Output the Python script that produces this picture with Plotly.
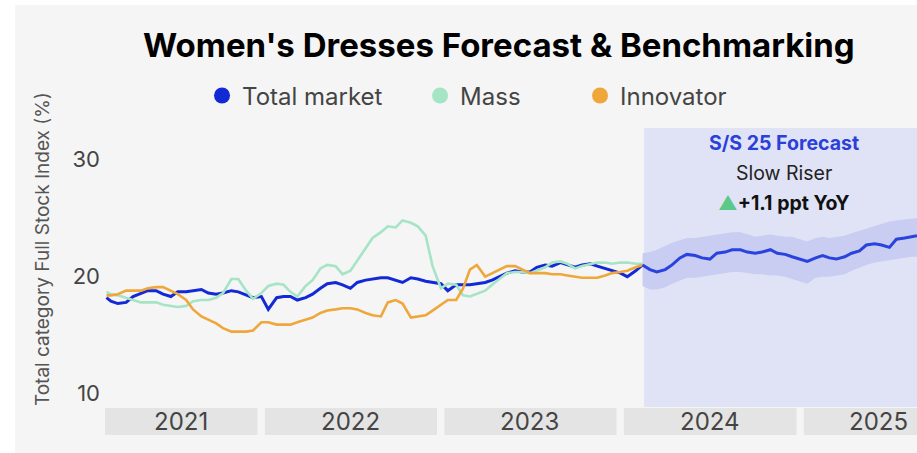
import pandas as pd
import plotly.graph_objects as go

# ---------------- data ----------------
hist_dates = ["2021-02-20"] + [d.strftime("%Y-%m-%d") for d in
                               pd.date_range("2021-03-01", "2024-02-15", freq="SMS")]

total_market = [
    18.2, 17.9, 17.7, 17.8, 18.3, 18.6, 18.8, 18.8, 18.5, 18.3, 18.7, 18.7, 18.8, 18.9, 18.6,
    18.5, 18.6, 18.8, 18.7, 18.4, 18.2,
    18.3, 17.2, 18.2, 18.3, 18.3, 18.0, 18.2, 18.5, 19.0, 19.4, 19.5, 19.3, 19.0, 19.5, 19.7,
    19.8, 19.9, 19.9, 19.7, 19.5, 19.9, 19.8, 19.6, 19.5,
    19.4, 18.8, 19.3, 19.3, 19.3, 19.4, 19.5, 19.7, 20.0, 20.3, 20.5, 20.4, 20.4, 20.8, 21.0,
    20.9, 21.2, 21.0, 20.8, 21.0, 21.1, 20.9, 20.7, 20.5,
    20.3, 20.0, 20.5, 21.0,
]
mass = [
    18.7, 18.5, 18.4, 18.2, 18.0, 17.8, 17.8, 17.8, 17.6, 17.5, 17.4, 17.5, 17.9, 18.0, 18.0,
    18.2, 18.6, 19.8, 19.8, 18.8, 18.1,
    18.6, 19.2, 19.4, 19.3, 18.7, 18.3, 19.2, 19.7, 20.7, 21.0, 20.9, 20.2, 20.5, 21.4, 22.5,
    23.3, 23.8, 24.3, 24.2, 24.8, 24.6, 24.3, 23.5, 20.9,
    19.0, 19.4, 19.3, 18.4, 18.3, 18.5, 18.8, 19.3, 19.8, 20.3, 20.4, 20.4, 20.3, 20.5, 20.8,
    21.2, 21.3, 21.1, 20.7, 20.9, 21.1, 21.2, 21.2, 21.1,
    21.2, 21.2, 21.1, 21.1,
]
innovator = [
    18.4, 18.4, 18.5, 18.8, 18.8, 18.8, 19.0, 19.1, 19.1, 18.8, 18.5, 18.0, 17.2, 16.6, 16.3,
    16.0, 15.6, 15.3, 15.3, 15.3, 15.4,
    16.1, 16.1, 15.9, 15.9, 15.9, 16.1, 16.3, 16.5, 16.9, 17.1, 17.2, 17.3, 17.3, 17.2, 16.9,
    16.7, 16.6, 17.8, 18.0, 17.7, 16.5, 16.6, 16.7, 17.1,
    17.6, 18.0, 18.0, 19.0, 20.6, 21.0, 20.0, 20.3, 20.6, 20.9, 20.9, 20.6, 20.3, 20.3, 20.3,
    20.2, 20.2, 20.1, 20.0, 19.9, 19.9, 19.9, 20.1, 20.3,
    20.4, 20.5, 20.8, 21.0,
]

fc_dates = [d.strftime("%Y-%m-%d") for d in
            pd.date_range("2024-02-15", "2025-08-15", freq="SMS")] + ["2025-08-26"]
forecast = [
    21.0, 20.6, 20.4, 20.6, 21.0, 21.6, 21.9, 21.8, 21.6, 21.5, 22.0, 22.1, 22.3, 22.3, 22.1,
    22.0, 22.1, 22.3, 22.0, 21.9, 21.7, 21.5, 21.3, 21.6, 21.8, 21.6, 21.5, 21.7, 22.0, 22.2,
    22.7, 22.8, 22.7, 22.5, 23.2, 23.3, 23.4, 23.5,
]
forecast_upper = [
    22.0, 22.1, 22.3, 22.6, 22.9, 23.1, 23.3, 23.3, 23.4, 23.5, 23.6, 23.7, 23.8, 23.8, 23.6,
    23.4, 23.5, 23.6, 23.5, 23.4, 23.4, 23.2, 23.0, 23.3, 23.4, 23.3, 23.4, 23.5, 23.7, 23.9,
    24.1, 24.3, 24.5, 24.7, 24.8, 24.9, 25.0, 25.0,
]
forecast_lower = [
    19.2, 18.9, 18.9, 19.1, 19.4, 19.7, 19.9, 19.9, 20.0, 20.1, 20.2, 20.3, 20.4, 20.4, 20.3,
    20.2, 20.2, 20.1, 20.1, 20.0, 19.8, 19.6, 19.4, 19.9, 20.0, 20.0, 20.1, 20.2, 20.5, 20.8,
    21.0, 21.2, 21.3, 21.4, 21.5, 21.6, 21.7, 21.7,
]

years = ["2021", "2022", "2023", "2024", "2025"]
year_label_dates = ["2021-07-21", "2022-07-01", "2023-07-01", "2024-07-01", "2025-06-08"]
y_ticks = [10, 20, 30]

x_range = ["2021-02-17", "2025-08-26"]
forecast_start = "2024-02-18"

# ---------------- style ----------------
FONT = "Inter"
BLUE = "#1329d6"
BLUE_FC = "#2a42de"
MINT = "#a6e4c6"
ORANGE = "#efa73b"
BG = "#f5f5f5"

fig = go.Figure()

# confidence band
fig.add_trace(go.Scatter(x=fc_dates, y=forecast_lower, mode="lines", line=dict(width=0),
                         showlegend=False, hoverinfo="skip"))
fig.add_trace(go.Scatter(x=fc_dates, y=forecast_upper, mode="lines", line=dict(width=0),
                         fill="tonexty", fillcolor="#c8cdf1", showlegend=False, hoverinfo="skip"))

fig.add_trace(go.Scatter(x=hist_dates, y=total_market, mode="lines",
                         line=dict(color=BLUE, width=3), showlegend=False))
fig.add_trace(go.Scatter(x=hist_dates, y=mass, mode="lines",
                         line=dict(color=MINT, width=2.6), showlegend=False))
fig.add_trace(go.Scatter(x=hist_dates, y=innovator, mode="lines",
                         line=dict(color=ORANGE, width=2.6), showlegend=False))
fig.add_trace(go.Scatter(x=fc_dates, y=forecast, mode="lines",
                         line=dict(color=BLUE_FC, width=3), showlegend=False))

# legend entries (dots)
for name, col, lg in [("Total market", BLUE, "legend"), ("Mass", MINT, "legend2"),
                      ("Innovator", ORANGE, "legend3")]:
    fig.add_trace(go.Scatter(x=[None], y=[None], mode="markers", name=name,
                             marker=dict(color=col, size=16), legend=lg))

shapes = []
# white outer strips
shapes.append(dict(type="rect", xref="paper", yref="paper", x0=-0.2, x1=-0.1108,
                   y0=-0.3, y1=1.6, fillcolor="white", line=dict(width=0), layer="above"))
shapes.append(dict(type="rect", xref="paper", yref="paper", x0=-0.2, x1=1.05,
                   y0=1.4409, y1=1.6, fillcolor="white", line=dict(width=0), layer="above"))
# forecast region
shapes.append(dict(type="rect", xref="x", yref="paper", x0=forecast_start, x1="2025-12-31",
                   y0=0, y1=1, fillcolor="#e0e3f6", line=dict(width=0), layer="below"))
# year boxes
for i, yr in enumerate(years):
    x0 = x_range[0] if i == 0 else f"{yr}-01-08"
    shapes.append(dict(type="rect", xref="x", yref="paper", x0=x0, x1=f"{yr}-12-24",
                       y0=-0.1004, y1=-0.0036, fillcolor="#e4e4e4", line=dict(width=0),
                       layer="below"))

annotations = []
for yr, d in zip(years, year_label_dates):
    annotations.append(dict(x=d, y=-0.052, xref="x", yref="paper", text=yr, showarrow=False,
                            font=dict(family=FONT, size=24, color="#444"),
                            xanchor="center", yanchor="middle"))

ann_size = 19.5
annotations.append(dict(x=0.836, y=0.946, xref="paper", yref="paper",
                        text="<b>S/S 25 Forecast</b>", showarrow=False,
                        font=dict(family=FONT, size=ann_size, color="#2b3fd9"),
                        xanchor="center", yanchor="middle"))
annotations.append(dict(x=0.836, y=0.839, xref="paper", yref="paper",
                        text="Slow Riser", showarrow=False,
                        font=dict(family=FONT, size=ann_size, color="#222"),
                        xanchor="center", yanchor="middle"))
annotations.append(dict(x=0.836, y=0.731, xref="paper", yref="paper",
                        text="<span style='color:#5cc98a'>▲</span><b>+1.1 ppt YoY</b>",
                        showarrow=False,
                        font=dict(family=FONT, size=ann_size, color="#111"),
                        xanchor="center", yanchor="middle"))
annotations.append(dict(x=-0.0776, y=0.566, xref="paper", yref="paper",
                        text="Total category Full Stock Index (%)", showarrow=False,
                        textangle=-90, font=dict(family=FONT, size=19, color="#555"),
                        xanchor="center", yanchor="middle"))

leg_common = dict(orientation="h", y=1.115, yanchor="middle", xanchor="left",
                  bgcolor="rgba(0,0,0,0)", font=dict(family=FONT, size=24, color="#444"),
                  itemclick=False)

fig.update_layout(
    width=917, height=453, autosize=False,
    margin=dict(l=105, r=0, t=128, b=46),
    paper_bgcolor=BG, plot_bgcolor=BG,
    font=dict(family=FONT),
    title=dict(text="<b>Women's Dresses Forecast & Benchmarking</b>",
               x=0.485, xref="paper", xanchor="center",
               y=1 - 45 / 453, yref="container", yanchor="middle",
               font=dict(family=FONT, size=33, color="#000")),
    xaxis=dict(type="date", range=x_range, showticklabels=False, showgrid=False,
               zeroline=False, showline=False, ticks=""),
    yaxis=dict(range=[8.86, 32.7], tickvals=y_ticks, showgrid=False, zeroline=False,
               showline=False, ticks="", ticklabelstandoff=4,
               tickfont=dict(family=FONT, size=22, color="#444")),
    legend=dict(x=0.1195, **leg_common),
    legend2=dict(x=0.388, **leg_common),
    legend3=dict(x=0.585, **leg_common),
    shapes=shapes,
    annotations=annotations,
    showlegend=True,
)

fig.write_html("out.html", config={"displayModeBar": False},
               post_script="document.body.style.margin='0';document.body.style.overflow='hidden';")
